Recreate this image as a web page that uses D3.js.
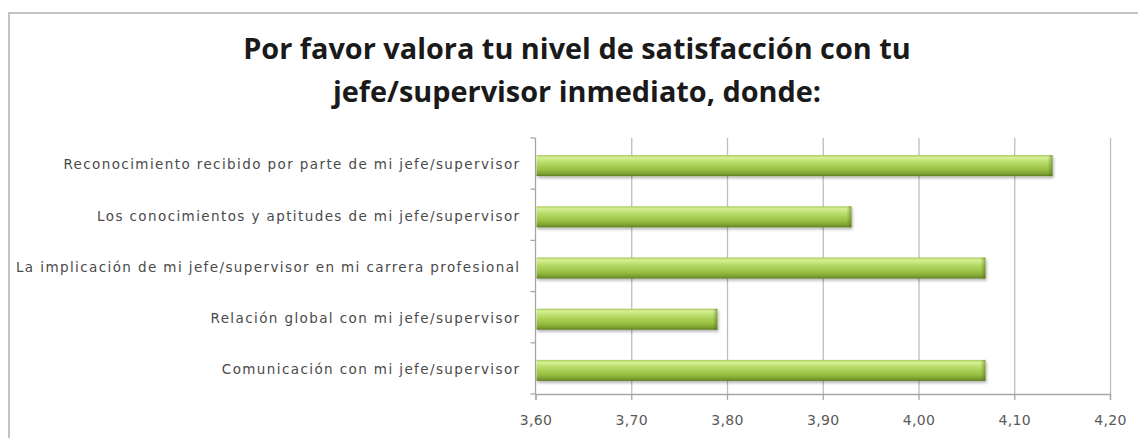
<!DOCTYPE html>
<html>
<head>
<meta charset="utf-8">
<script src="https://cdn.jsdelivr.net/npm/d3@7"></script>
<style>
  body { margin: 0; background: #fff; }
  svg { display: block; }
</style>
</head>
<body>
<div id="chart"></div>
<script>
// data
const categories = [
  'Reconocimiento recibido por parte de mi jefe/supervisor',
  'Los conocimientos y aptitudes de mi jefe/supervisor',
  'La implicación de mi jefe/supervisor en mi carrera profesional',
  'Relación global con mi jefe/supervisor',
  'Comunicación con mi jefe/supervisor',
];
const values = [4.14, 3.93, 4.07, 3.79, 4.07];
const xTicks = [3.6, 3.7, 3.8, 3.9, 4.0, 4.1, 4.2];
const titleLines = [
  'Por favor valora tu nivel de satisfacción con tu',
  'jefe/supervisor inmediato, donde:',
];

const W = 1138;
const H = 438;
const margin = { t: 138, r: 28, b: 44, l: 535.5 };
const width = W - margin.l - margin.r;
const height = H - margin.t - margin.b;

const data = categories.map((c, i) => ({ cat: c, value: values[i] }));

const svg = d3
  .select('#chart')
  .append('svg')
  .attr('width', W)
  .attr('height', H);

const defs = svg.append('defs');
const grad = defs
  .append('linearGradient')
  .attr('id', 'barGrad')
  .attr('x1', 0).attr('y1', 0)
  .attr('x2', 0).attr('y2', 1);
[
  [0, '#a8c95a'],
  [0.12, '#d6f096'],
  [0.35, '#b7db68'],
  [0.7, '#98c043'],
  [0.9, '#7b9e2f'],
  [1, '#5f7d22'],
].forEach(([o, c]) => grad.append('stop').attr('offset', o).attr('stop-color', c));

const endGrad = defs
  .append('linearGradient')
  .attr('id', 'endGrad')
  .attr('x1', 0).attr('y1', 0)
  .attr('x2', 1).attr('y2', 0);
endGrad.append('stop').attr('offset', 0).attr('stop-color', '#5f7d22').attr('stop-opacity', 0);
endGrad.append('stop').attr('offset', 1).attr('stop-color', '#4f6a1a').attr('stop-opacity', 0.55);

const shadow = defs.append('filter').attr('id', 'shadow').attr('x', '-5%').attr('y', '-30%').attr('width', '110%').attr('height', '180%');
shadow.append('feGaussianBlur').attr('in', 'SourceAlpha').attr('stdDeviation', 1.5);
shadow.append('feOffset').attr('dx', 1).attr('dy', 2).attr('result', 'off');
shadow.append('feComponentTransfer').append('feFuncA').attr('type', 'linear').attr('slope', 0.3);
const merge = shadow.append('feMerge');
merge.append('feMergeNode');
merge.append('feMergeNode').attr('in', 'SourceGraphic');

// outer chart frame (runs off the picture on right and bottom)
svg
  .append('rect')
  .attr('x', 9)
  .attr('y', 13)
  .attr('width', W + 20)
  .attr('height', H + 20)
  .attr('fill', 'none')
  .attr('stroke', '#c4c4c4')
  .attr('stroke-width', 2);

// title
const title = svg
  .append('text')
  .attr('text-anchor', 'middle')
  .style('font-family', 'Open Sans, sans-serif')
  .style('font-weight', 700)
  .style('fill', '#1a1a1a');
title
  .selectAll('tspan')
  .data(titleLines)
  .join('tspan')
  .attr('x', 577)
  .attr('y', (d, i) => 59 + i * 43)
  .text((d) => d);
// fit title width to the reference (line 1 spans ~670px)
title.style('font-size', '30px');
const w1 = title.selectAll('tspan').nodes()[0].getComputedTextLength();
title.style('font-size', `${(30 * 668) / w1}px`);

const g = svg.append('g').attr('transform', `translate(${margin.l}, ${margin.t})`);

const x = d3.scaleLinear().domain([3.6, 4.2]).range([0, width]);
const y = d3.scaleBand().domain(categories).range([0, height]).paddingInner(0.59).paddingOuter(0.295);

// vertical gridlines
g.append('g')
  .attr('class', 'grid')
  .call(d3.axisBottom(x).tickValues(xTicks.slice(1)).tickSize(height).tickFormat(''))
  .call((s) => s.select('.domain').remove())
  .call((s) => s.selectAll('line').attr('stroke', '#bdbdbd').attr('stroke-width', 1.3));

// x axis
g.append('g')
  .attr('transform', `translate(0, ${height})`)
  .call(
    d3
      .axisBottom(x)
      .tickValues(xTicks)
      .tickSize(6)
      .tickPadding(15)
      .tickFormat((d) => d.toFixed(2).replace('.', ',')),
  )
  .call((s) => s.select('.domain').attr('stroke', '#a6a6a6').attr('stroke-width', 1.3))
  .call((s) => s.selectAll('line').attr('stroke', '#a6a6a6').attr('stroke-width', 1.3))
  .call((s) =>
    s
      .selectAll('text')
      .attr('fill', '#595959')
      .style('font-family', 'DejaVu Sans, sans-serif')
      .style('font-size', '14px')
      .style('letter-spacing', '0.3px'),
  );

// y axis line with ticks between categories
g.append('line')
  .attr('x1', 0).attr('x2', 0)
  .attr('y1', 0).attr('y2', height)
  .attr('stroke', '#a6a6a6')
  .attr('stroke-width', 1.3);
g.selectAll('.ytick')
  .data(d3.range(categories.length + 1))
  .join('line')
  .attr('class', 'ytick')
  .attr('x1', -5).attr('x2', 0)
  .attr('y1', (i) => i * y.step())
  .attr('y2', (i) => i * y.step())
  .attr('stroke', '#a6a6a6')
  .attr('stroke-width', 1.3);

// category labels (the source renders them with wide letter spacing)
g.selectAll('.ylabel')
  .data(categories)
  .join('text')
  .attr('class', 'ylabel')
  .attr('x', -15)
  .attr('y', (d) => y(d) + y.bandwidth() / 2 + 1)
  .attr('dy', '0.35em')
  .attr('text-anchor', 'end')
  .attr('fill', '#4a4a4a')
  .style('font-family', 'DejaVu Sans, sans-serif')
  .style('font-size', '13.5px')
  .style('letter-spacing', '1.4px')
  .text((d) => d);

// bars
const bars = g.selectAll('.bar').data(data).join('g').attr('class', 'bar').attr('filter', 'url(#shadow)');
bars
  .append('rect')
  .attr('x', 1)
  .attr('y', (d) => y(d.cat) + 2)
  .attr('width', (d) => x(d.value) - 1)
  .attr('height', y.bandwidth())
  .attr('fill', 'url(#barGrad)');
bars
  .append('rect')
  .attr('x', (d) => x(d.value) - 5)
  .attr('y', (d) => y(d.cat) + 2)
  .attr('width', 5)
  .attr('height', y.bandwidth())
  .attr('fill', 'url(#endGrad)');
</script>
</body>
</html>
